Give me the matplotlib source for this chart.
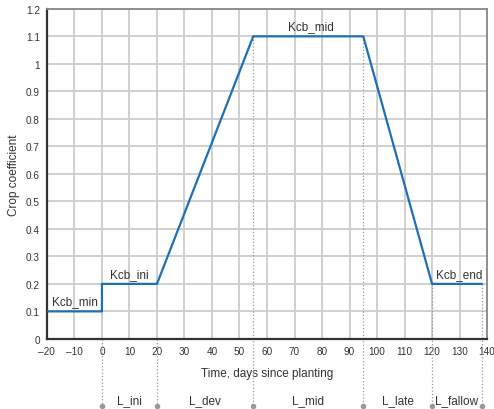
import matplotlib.pyplot as plt

# curve of the basal crop coefficient
days = [-20, 0, 0, 20, 55, 95, 120, 138]
kcb = [0.1, 0.1, 0.2, 0.2, 1.1, 1.1, 0.2, 0.2]

# stage boundaries and labels
bounds = [0, 20, 55, 95, 120, 138]
bound_kcb = [0.2, 0.2, 1.1, 1.1, 0.2, 0.2]
stage_names = ['L_ini', 'L_dev', 'L_mid', 'L_late', 'L_fallow']
stage_pos = [10, 37.5, 75, 107.5, 129]

kcb_names = ['Kcb_min', 'Kcb_ini', 'Kcb_mid', 'Kcb_end']
kcb_pos = [(-10, 0.1), (10, 0.2), (76, 1.1), (130, 0.2)]

plt.rcParams['font.family'] = ['Liberation Sans', 'DejaVu Sans']
txt = '#333333'

fig = plt.figure(figsize=(4.94, 4.10), dpi=100)
ax = fig.add_axes([0.095, 0.171, 0.891, 0.805])

ax.set_xlim(-20, 140)
ax.set_ylim(0, 1.2)
ax.set_xticks(range(-20, 141, 10))
ax.set_xticklabels(['\u201320', '\u201310'] + [str(v) for v in range(0, 141, 10)])
ax.set_yticks([i / 10 for i in range(13)])
ax.set_yticklabels(['0'] + ['%g' % (i / 10) for i in range(1, 13)])
ax.grid(True, color='#cccccc', linewidth=1.3)
ax.set_axisbelow(True)
ax.tick_params(length=0, labelsize=7.2, colors=txt, pad=5)

for s in ['top', 'right']:
    ax.spines[s].set_color('#888888')
    ax.spines[s].set_linewidth(1.3)
for s in ['left', 'bottom']:
    ax.spines[s].set_color('#333333')
    ax.spines[s].set_linewidth(1.6)

# dotted stage boundaries, running below the axis
for x, y in zip(bounds, bound_kcb):
    top = y if x >= 55 else 0
    ax.plot([x, x], [top, -0.245], color='#999999', linestyle=':', linewidth=0.9,
            clip_on=False, zorder=1)
    ax.plot(x, -0.245, 'o', color='#999999', markersize=3, clip_on=False, zorder=1)

ax.plot(days, kcb, color='#1f6fb5', linewidth=1.6, zorder=3)

for name, x in zip(stage_names, stage_pos):
    ax.text(x, -0.222, name, ha='center', va='center', fontsize=8.5, color=txt,
            clip_on=False)

for name, (x, y) in zip(kcb_names, kcb_pos):
    ax.text(x, y + 0.037, name, ha='center', va='center', fontsize=8.5, color=txt)

ax.set_xlabel('Time, days since planting', fontsize=8.5, color=txt, labelpad=8)
ax.set_ylabel('Crop coefficient', fontsize=8.5, color=txt, labelpad=4)

fig.savefig('out.png', dpi=100)
